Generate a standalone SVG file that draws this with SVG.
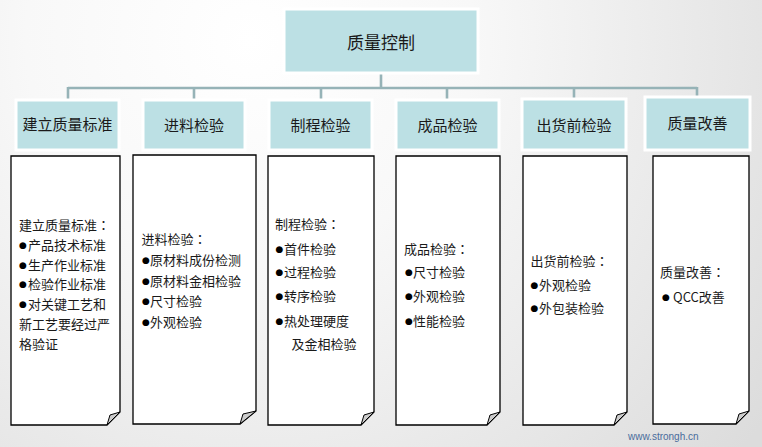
<svg xmlns="http://www.w3.org/2000/svg" width="762" height="447" viewBox="0 0 762 447">
<defs>
<radialGradient id="bg" gradientUnits="userSpaceOnUse" cx="250" cy="40" r="640">
<stop offset="0" stop-color="#ffffff"/>
<stop offset="0.35" stop-color="#f8f8f8"/>
<stop offset="1" stop-color="#dcdcdc"/>
</radialGradient>
<style>
.hd{fill:#bce0e4;stroke:#ffffff;stroke-width:3}
.ht{font-family:"Noto Sans CJK SC","Noto Sans",sans-serif;font-size:15px;fill:#1a1a1a;text-anchor:middle}
.tt{font-family:"Noto Sans CJK SC","Noto Sans",sans-serif;font-size:17px;fill:#1a1a1a;text-anchor:middle}
.pp{fill:#ffffff;stroke:#000000;stroke-width:1.3;stroke-linejoin:miter}
.fd{fill:#cccccc;stroke:#000000;stroke-width:1}
.bt{font-family:"Noto Sans CJK SC","Noto Sans",sans-serif;font-size:13px;fill:#1a1a1a}
.c{font-family:"Noto Sans CJK TC","Noto Sans CJK SC",sans-serif}
.b{font-family:"DejaVu Sans",sans-serif;font-size:9px;fill:#000000}
.cn{fill:none;stroke:#96b3b7;stroke-width:2.6}
.wm{font-family:"Liberation Sans",Arial,sans-serif;font-size:10px;fill:#4a6c9c}
</style>
</defs>
<rect x="0" y="0" width="762" height="447" fill="url(#bg)"/>

<g id="connectors">
<path class="cn" d="M381,73 V88 M68,88 H697 M68,87 V99 M194,87 V99 M321,87 V99 M447,87 V99 M574,87 V98 M697,87 V97"/>
</g>

<g id="root">
<rect class="hd" x="284" y="9" width="194" height="64"/>
<text class="tt" x="381" y="48.5">质量控制</text>
</g>

<g id="h1"><rect class="hd" x="16" y="100" width="103" height="50"/><text class="ht" x="67.5" y="130">建立质量标准</text></g>
<g id="h2"><rect class="hd" x="143" y="100" width="102" height="50"/><text class="ht" x="194" y="131">进料检验</text></g>
<g id="h3"><rect class="hd" x="269" y="100" width="103" height="50"/><text class="ht" x="320.5" y="131">制程检验</text></g>
<g id="h4"><rect class="hd" x="396" y="100" width="103" height="50"/><text class="ht" x="447.5" y="131">成品检验</text></g>
<g id="h5"><rect class="hd" x="522" y="99" width="104" height="51"/><text class="ht" x="574" y="131">出货前检验</text></g>
<g id="h6"><rect class="hd" x="645" y="97" width="105" height="53"/><text class="ht" x="697.5" y="129">质量改善</text></g>

<g id="n1">
<path class="pp" d="M11,156 H120 V412 L107,425 H11 Z"/>
<path class="fd" d="M107,425 L110,415 L120,412 Z"/>
<text class="bt"><tspan x="19" y="230">建立质量标准<tspan class="c">：</tspan></tspan>
<tspan class="b" x="19" y="248">●</tspan><tspan x="28" y="250">产品技术标准</tspan>
<tspan class="b" x="19" y="267.5">●</tspan><tspan x="28" y="269.5">生产作业标准</tspan>
<tspan class="b" x="19" y="287">●</tspan><tspan x="28" y="289">检验作业标准</tspan>
<tspan class="b" x="19" y="307">●</tspan><tspan x="28" y="309">对关键工艺和</tspan>
<tspan x="19" y="329">新工艺要经过严</tspan>
<tspan x="19" y="349">格验证</tspan></text>
</g>

<g id="n2">
<path class="pp" d="M133,155 H256 V411 L240,424 H133 Z"/>
<path class="fd" d="M240,424 L243,414 L256,411 Z"/>
<text class="bt"><tspan x="141.5" y="244">进料检验<tspan class="c">：</tspan></tspan>
<tspan class="b" x="142" y="263">●</tspan><tspan x="150" y="265">原材料成份检测</tspan>
<tspan class="b" x="142" y="283.5">●</tspan><tspan x="150" y="285.5">原材料金相检验</tspan>
<tspan class="b" x="142" y="304">●</tspan><tspan x="150" y="306">尺寸检验</tspan>
<tspan class="b" x="142" y="324.5">●</tspan><tspan x="150" y="326.5">外观检验</tspan></text>
</g>

<g id="n3">
<path class="pp" d="M268,156 H374 V412 L361,425 H268 Z"/>
<path class="fd" d="M361,425 L364,415 L374,412 Z"/>
<text class="bt"><tspan x="275" y="229">制程检验<tspan class="c">：</tspan></tspan>
<tspan class="b" x="275.5" y="251.5">●</tspan><tspan x="284" y="253.5">首件检验</tspan>
<tspan class="b" x="275.5" y="275">●</tspan><tspan x="284" y="277">过程检验</tspan>
<tspan class="b" x="275.5" y="299">●</tspan><tspan x="284" y="301">转序检验</tspan>
<tspan class="b" x="275.5" y="323.5">●</tspan><tspan x="284" y="325.5">热处理硬度</tspan>
<tspan x="291.5" y="349">及金相检验</tspan></text>
</g>

<g id="n4">
<path class="pp" d="M396,156 H500 V412 L487,425 H396 Z"/>
<path class="fd" d="M487,425 L490,415 L500,412 Z"/>
<text class="bt"><tspan x="404" y="254">成品检验<tspan class="c">：</tspan></tspan>
<tspan class="b" x="405" y="275">●</tspan><tspan x="413" y="277">尺寸检验</tspan>
<tspan class="b" x="405" y="299">●</tspan><tspan x="413" y="301">外观检验</tspan>
<tspan class="b" x="405" y="323.5">●</tspan><tspan x="413" y="325.5">性能检验</tspan></text>
</g>

<g id="n5">
<path class="pp" d="M523,156 H627 V412 L614,425 H523 Z"/>
<path class="fd" d="M614,425 L617,415 L627,412 Z"/>
<text class="bt"><tspan x="530.5" y="266">出货前检验<tspan class="c">：</tspan></tspan>
<tspan class="b" x="530.5" y="287.5">●</tspan><tspan x="539" y="289.5">外观检验</tspan>
<tspan class="b" x="530.5" y="311">●</tspan><tspan x="539" y="313">外包装检验</tspan></text>
</g>

<g id="n6">
<path class="pp" d="M653,156 H749 V411 L736,424 H653 Z"/>
<path class="fd" d="M736,424 L739,414 L749,411 Z"/>
<text class="bt"><tspan x="660" y="277">质量改善<tspan class="c">：</tspan></tspan>
<tspan class="b" x="662" y="299.5">●</tspan><tspan x="673" y="301.5">QCC改善</tspan></text>
</g>

<text class="wm" x="628" y="439.5">www.strongh.cn</text>
</svg>
